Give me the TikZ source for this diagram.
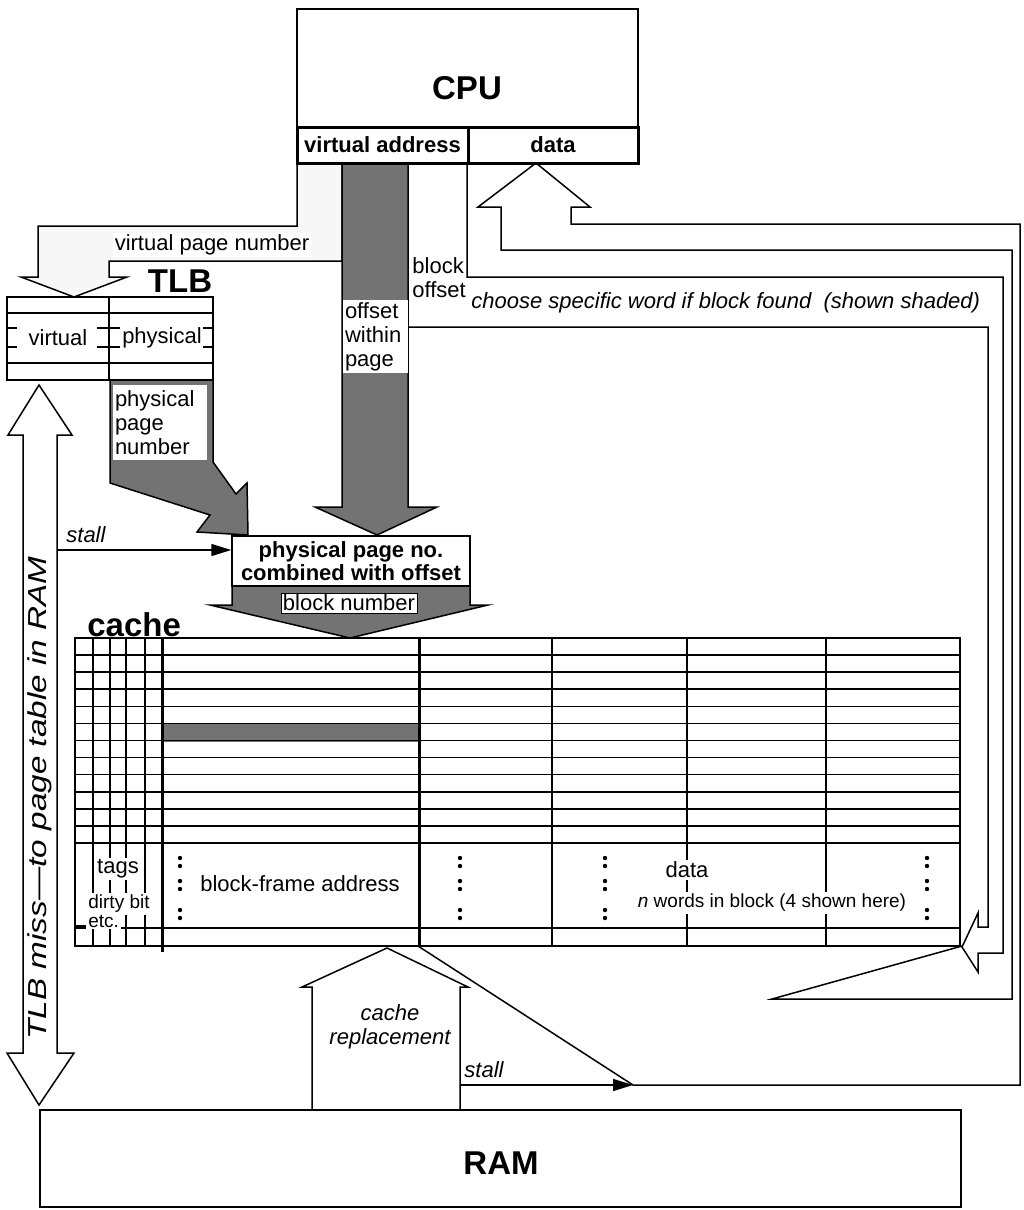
\documentclass[tikz,border=0pt]{standalone}
\usepackage{fontspec}
\setmainfont{Liberation Sans}
\usetikzlibrary{arrows.meta,positioning,calc}

\begin{document}
\begin{tikzpicture}[x=0.5pt,y=-0.5pt,line join=miter,
   lbl/.style={font=\fontsize{11}{12}\selectfont,inner sep=1pt},
   bld/.style={font=\fontsize{11}{11.5}\selectfont\bfseries,inner sep=1pt},
   big/.style={font=\fontsize{16.5}{18}\selectfont\bfseries,inner sep=0pt},
   itl/.style={font=\fontsize{11}{12}\selectfont\itshape,inner sep=1pt},
   sml/.style={font=\fontsize{9.5}{10.5}\selectfont,inner sep=1pt},
   outline/.style={draw,line width=0.75pt},
   hollow/.style={outline,fill=white},
   shaded/.style={outline,fill=black!55},
   grid/.style={line width=0.8pt},
   heavy/.style={draw,line width=1.5pt},
   stallarr/.style={line width=0.75pt,-{Triangle[length=10pt,width=6pt]}}]
  \useasboundingbox (0,0) rectangle (1023,1210);

  % data path: cache -> CPU
  \draw[hollow] (418,946) -- (633,1085) coordinate (funnel) -- (1020,1085) -- (1020,224) -- (571,224)
     -- (571,207) -- (590,207) -- (536,163) -- (478,207) -- (501,207) -- (501,250) -- (1012,250)
     -- (1012,999) -- (772,999) -- (962,946) -- cycle;
  % block offset -> word select
  \draw[hollow] (467,163) -- (467,277) -- (1003,277) -- (1003,953) -- (978,953) -- (978,972)
     -- (962,947) -- (978,913) -- (978,927) -- (988,927) -- (988,327) -- (408,327) -- (408,163);
  % virtual page number -> TLB
  \draw[outline,fill=gray!6] (297,163) -- (297,226) -- (38,226) -- (38,277) -- (21,277) -- (74,297)
     -- (127,277) -- (109,277) -- (109,261) -- (342,261) -- (342,163);
  % offset within page
  \draw[shaded] (342,163) -- (342,507) -- (315,507) -- (377,535) -- (437,507) -- (408,507) -- (408,163);
  % physical page number
  \draw[shaded] (110,380) -- (110,483) -- (210,515) -- (197,532) -- (248,535) -- (247,483)
     -- (236,494) -- (213,462) -- (213,380) -- cycle;
  % block number
  \draw[shaded] (232,586) -- (232,605) -- (210,605) -- (350,638) -- (488,605) -- (470,605) -- (470,586);

  % CPU
  \draw[outline] (297,9) rectangle (638,127);
  \node[big] (cpu) at (467,88) {CPU};
  \draw[heavy] (297,127) rectangle (638,163) (468,127) -- (468,163);
  \node[bld] (va) at (382.5,145) {virtual address};
  \node[bld] (data) at (553,145) {data};

  \node[lbl,fill=white] (vpn) at (212,245) {virtual page number};
  \node[lbl,anchor=west,align=left] (boff) at (410,278) {block\\offset};
  \node[lbl,fill=white,text width=30.5pt,minimum height=36.5pt,align=left] (owp) at (375.5,336.5) {offset\\within\\page};
  \node[itl,anchor=west] (choose) at (469,303) {choose specific word if block found\ \ (shown shaded)};

  % TLB
  \draw[outline] (7,297) rectangle (213,380) (109,297) -- (109,380) (7,313) -- (213,313) (7,363) -- (213,363);
  \foreach \y in {328,347}
    \draw[outline] (7,\y) -- (17,\y) (97,\y) -- (120,\y) (203,\y) -- (213,\y);
  \node[lbl] (tlbv) at (58,338) {virtual};
  \node[lbl] (tlbp) at (162,338) {physical};
  \node[big] (tlb) at (180,281) {TLB};
  \node[lbl,fill=white,text width=45pt,minimum height=37.5pt,align=left] (ppn) at (160,422.5) {physical\\page\\number};

  \node[bld,draw,fill=white,line width=0.75pt,minimum width=119pt,minimum height=25pt,align=center] (combo) at (351,561) {physical page no.\\combined with offset};
  \node[lbl,draw,fill=white,line width=0.4pt] (bnum) at (349,603) {block number};

  % TLB miss
  \draw[hollow] (23,1053) -- (23,435) -- (8,435) -- (39,385) -- (72,435) -- (57,435) -- (57,1053)
     -- (74,1053) -- (39,1105) -- (7,1053) -- cycle;
  \node[itl,font=\fontsize{13}{14}\selectfont\itshape,rotate=90,xscale=1.28] (miss) at (40,798) {TLB miss—to page table in RAM};
  \coordinate (stallA) at (57,550);
  \draw[stallarr] (stallA) -- (stallA -| combo.west);
  \node[itl,anchor=south west] (stallAtxt) at (64,545) {stall};

  % cache
  \node[big,anchor=base west] (cachetxt) at (87,636) {cache};
  \fill[black!55] (162,723) rectangle (419,742);
  \draw[grid] (75,638) rectangle (960,946);
  \foreach \k in {1,...,12}
    \draw[grid] (75,{638+\k*17.08}) -- (960,{638+\k*17.08});
  \draw[grid] (75,928) -- (960,928);
  \foreach \x in {93,110,126,145,552,687,826}
    \draw[grid] (\x,638) -- (\x,946);
  \draw[heavy] (162,638) -- (162,952) (419,638) -- (419,946);
  \foreach \x in {180,460,605,927}
    \foreach \y in {858,866,881,889,910,918}
      \fill (\x,\y) circle (1.1pt);
  \node[lbl,fill=white] (tags) at (118,869) {tags};
  \node[sml,fill=white] (dirty) at (119,904) {dirty bit};
  \node[sml,fill=white,anchor=west] (etc) at (86,921) {etc.};
  \draw[grid] (75,926) -- (etc.west |- 0,926);
  \node[lbl] (bfa) at (300,884) {block-frame address};
  \node[lbl,fill=white] (dtxt) at (687,870) {data};
  \node[sml,fill=white] (nw) at (772,903) {\textit{n} words in block (4 shown here)};

  % cache replacement and RAM
  \draw[hollow] (312,1110) -- (312,987) -- (302,987) -- (387,948) -- (468,987) -- (460,987) -- (460,1110);
  \node[itl,align=center] (repl) at (390,1027) {cache\\replacement};
  \coordinate (stallB) at (460,1085);
  \draw[stallarr] (stallB) -- (funnel);
  \node[itl,anchor=south west] (stallBtxt) at (462,1080) {stall};
  \draw[outline] (40,1110) rectangle (961,1207);
  \node[big] (ram) at (501,1163) {RAM};
\end{tikzpicture}
\end{document}
